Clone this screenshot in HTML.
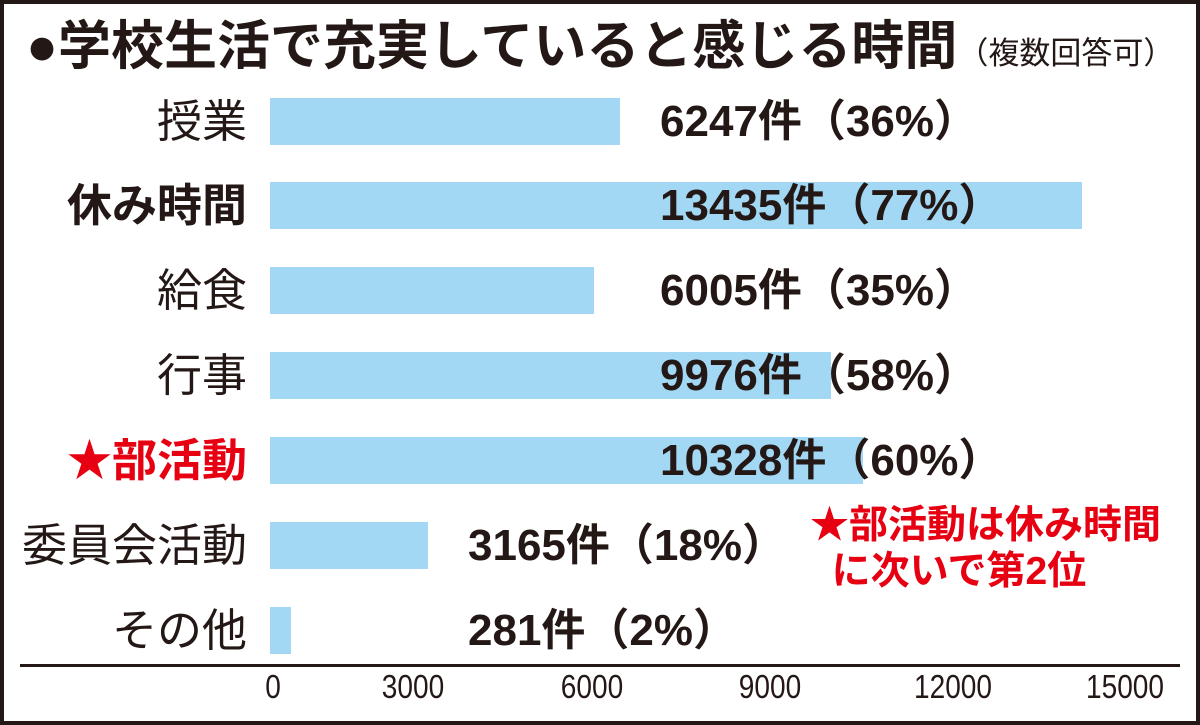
<!DOCTYPE html>
<html><head><meta charset="utf-8"><style>
body{margin:0;width:1200px;height:725px;overflow:hidden;background:#fff;font-family:"Liberation Sans","Noto Sans CJK JP",sans-serif;color:#231815}
.frame{position:absolute;left:0;top:0;width:1192px;height:717px;border:4px solid #231815}
.t{position:absolute;white-space:nowrap}
.bar{position:absolute;left:270px;height:47px;background:#a3d8f4}
.lab{position:absolute;right:953px;font-size:45px;line-height:47px;white-space:nowrap}
.val{position:absolute;font-size:44px;font-weight:bold;line-height:47px;white-space:nowrap}
.tick{position:absolute;top:668px;font-size:33px;transform:translateX(-50%) scaleX(0.85)}
</style></head><body>
<div class="frame"></div>
<div class="t" style="left:26px;top:15px;font-size:53px;font-weight:bold;line-height:64px">●学校生活で充実していると感じる時間<span style="font-size:31px;font-weight:normal">（複数回答可）</span></div>

<div class="bar" style="top:98px;width:350px"></div>
<div class="bar" style="top:182px;width:812px"></div>
<div class="bar" style="top:267px;width:324px"></div>
<div class="bar" style="top:352px;width:561px"></div>
<div class="bar" style="top:437px;width:593px"></div>
<div class="bar" style="top:522px;width:158px"></div>
<div class="bar" style="top:607px;width:21px"></div>

<div class="lab" style="top:98px">授業</div>
<div class="lab" style="top:182px;font-weight:bold">休み時間</div>
<div class="lab" style="top:267px">給食</div>
<div class="lab" style="top:352px">行事</div>
<div class="lab" style="top:437px;font-weight:bold;color:#e60012">★部活動</div>
<div class="lab" style="top:522px">委員会活動</div>
<div class="lab" style="top:607px">その他</div>

<div class="val" style="left:660px;top:98px">6247件（36%）</div>
<div class="val" style="left:660px;top:182px">13435件（77%）</div>
<div class="val" style="left:660px;top:267px">6005件（35%）</div>
<div class="val" style="left:660px;top:352px">9976件（58%）</div>
<div class="val" style="left:660px;top:437px">10328件（60%）</div>
<div class="val" style="left:468px;top:522px">3165件（18%）</div>
<div class="val" style="left:468px;top:607px">281件（2%）</div>

<div class="t" style="left:810px;top:503px;font-size:39px;font-weight:bold;color:#e60012;line-height:46px">★部活動は休み時間<br>&nbsp;&nbsp;に次いで第2位</div>

<div style="position:absolute;left:20px;top:664px;width:1160px;height:3px;background:#231815"></div>
<div class="tick" style="left:273px">0</div>
<div class="tick" style="left:413px">3000</div>
<div class="tick" style="left:592px">6000</div>
<div class="tick" style="left:770px">9000</div>
<div class="tick" style="left:953px">12000</div>
<div class="tick" style="left:1125px">15000</div>
</body></html>
